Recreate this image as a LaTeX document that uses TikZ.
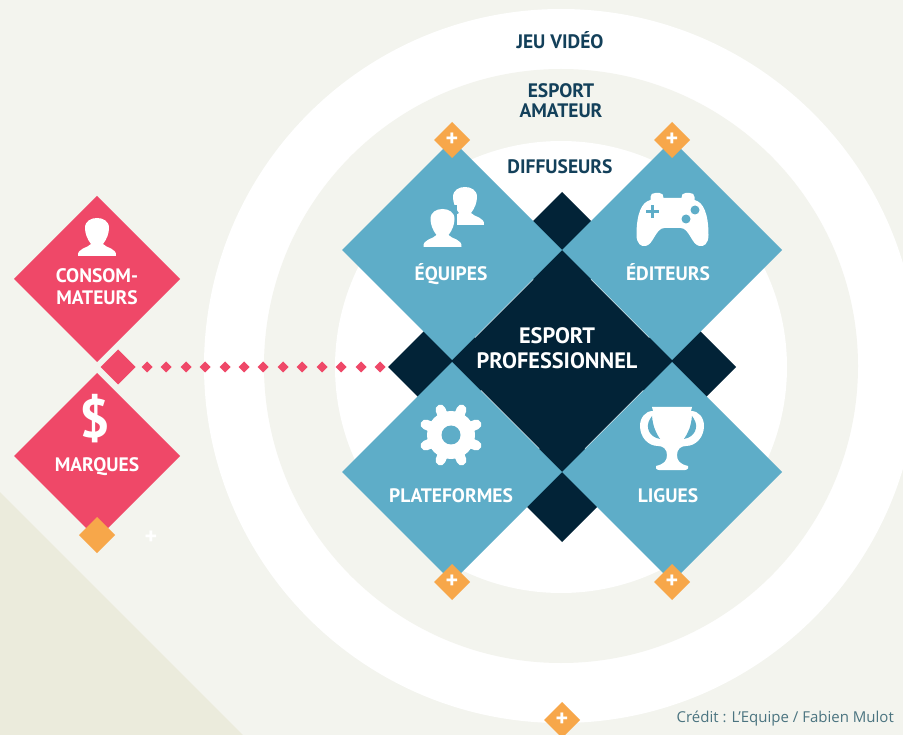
\documentclass[tikz,border=0pt]{standalone}
\usepackage{fontspec}
\setmainfont{PT Sans}
\newfontfamily\creditfont{Open Sans}
\usetikzlibrary{shapes.geometric}
\definecolor{bgcol}{HTML}{F3F4EE}
\definecolor{wedgecol}{HTML}{EBEBDC}
\definecolor{pinkcol}{HTML}{EF4868}
\definecolor{bluecol}{HTML}{5EADC8}
\definecolor{darkcol}{HTML}{022337}
\definecolor{orangecol}{HTML}{F7A74A}
\definecolor{titlecol}{HTML}{13405A}
\definecolor{creditcol}{HTML}{4B7480}
\newcommand\Person{(-19,38) .. controls (-20,30) and (-9,30) .. (-6,26) .. controls (-10,21) and (-12,15) .. (-12,10) .. controls (-12,3) and (-6,0) .. (0,0) .. controls (6,0) and (12,3) .. (12,10) .. controls (12,15) and (10,21) .. (6,26) .. controls (9,30) and (20,30) .. (19,38) -- cycle}
\newcommand\Plus{\raisebox{-2pt}{+}}
\tikzset{
  dia/.style={shape=diamond,aspect=1,inner sep=0pt,outer sep=0pt,minimum size=#1},
  pinkdia/.style={dia=#1,fill=pinkcol},
  bluedia/.style={dia=220pt,fill=bluecol},
  darkdia/.style={dia=#1,fill=darkcol},
  plusdia/.style={dia=36pt,fill=orangecol,text=white,font=\bfseries\fontsize{24}{24}\selectfont},
  dotdia/.style={dia=11pt,fill=pinkcol},
  ring/.style={shape=circle,inner sep=0pt,outer sep=0pt,minimum size=#1},
  lab/.style={text=white,font=\bfseries\fontsize{19.5}{19.5}\selectfont},
  title/.style={text=titlecol,font=\bfseries\fontsize{19.5}{19.5}\selectfont},
  big/.style={text=white,font=\bfseries\fontsize{22.3}{22.3}\selectfont},
  icon/.style={fill=white,draw=none}
}
\begin{document}
\begin{tikzpicture}[x=1pt,y=-1pt]%
\clip (0,0) rectangle (903,735); %%
\fill[bgcol] (0,0) rectangle (903,735); %%
\fill[wedgecol] (0,492)--(243,735)--(0,735)--cycle; %%
% rings
\node[ring=714pt,fill=white] (r1) at (561,366) {}; %%
\node[ring=594pt,fill=bgcol] (r2) at (561,366) {}; %%
\node[ring=452pt,fill=white] (r3) at (561,367) {}; %%
% dark diamonds
\node[darkdia=116pt] (k1) at (562,250) {}; %%
\node[darkdia=116pt] (k2) at (446,367) {}; %%
\node[darkdia=116pt] (k3) at (678,367) {}; %%
\node[darkdia=116pt] (k4) at (562,484) {}; %%
\node[darkdia=220pt] (pro) at (562,361) {}; %%
% blue diamonds
\node[bluedia] (equ) at (452,250) {}; %%
\node[bluedia] (edi) at (672,250) {}; %%
\node[bluedia] (pla) at (452,472) {}; %%
\node[bluedia] (lig) at (672,472) {}; %%
% left side
\node[pinkdia=166pt] (con) at (97,279) {}; %%
\node[pinkdia=166pt] (mar) at (97,456) {}; %%
\node[pinkdia=35pt] (d0) at (118,367) {}; %%
\node[dotdia] (d1) at (147,367) {}; %%
\node[dotdia] (d2) at (166,367) {}; %%
\node[dotdia] (d3) at (186,367) {}; %%
\node[dotdia] (d4) at (205,367) {}; %%
\node[dotdia] (d5) at (225,367) {}; %%
\node[dotdia] (d6) at (244,367) {}; %%
\node[dotdia] (d7) at (263,367) {}; %%
\node[dotdia] (d8) at (283,367) {}; %%
\node[dotdia] (d9) at (302,367) {}; %%
\node[dotdia] (d10) at (322,367) {}; %%
\node[dotdia] (d11) at (341,367) {}; %%
\node[dotdia] (d12) at (361,367) {}; %%
\node[dotdia] (d13) at (380,367) {}; %%
% orange diamonds
\node[plusdia] (p1) at (452,140) {\Plus}; %%
\node[plusdia] (p2) at (672,140) {\Plus}; %%
\node[plusdia] (p3) at (452,582) {\Plus}; %%
\node[plusdia] (p4) at (672,582) {\Plus}; %%
\node[plusdia] (p5) at (562,720) {\Plus}; %%
\node[dia=36pt,fill=orangecol] (p6) at (97,535) {}; %%
\node[text=white,font=\bfseries\fontsize{24}{24}\selectfont] (p7) at (151,538) {+}; %%
% titles
\node[title] (t1) at (560,40) {JEU VIDÉO}; %%
\node[title] (t2) at (561,91) {ESPORT}; %%
\node[title] (t3) at (561,111) {AMATEUR}; %%
\node[title] (t4) at (560,167) {DIFFUSEURS}; %%
\node[lab] (l1) at (451,274) {ÉQUIPES}; %%
\node[lab] (l2) at (668,272) {ÉDITEURS}; %%
\node[lab] (l3) at (451,496) {PLATEFORMES}; %%
\node[lab] (l4) at (668,496) {LIGUES}; %%
\node[big] (l5) at (557,336) {ESPORT}; %%
\node[big] (l6) at (557,361) {PROFESSIONNEL}; %%
\node[lab] (l7) at (97,276) {CONSOM-}; %%
\node[lab] (l8) at (97,298) {MATEURS}; %%
\node[lab] (l9) at (97,467) {MARQUES}; %%
\node[text=white,font=\bfseries\fontsize{54}{54}\selectfont] (dol) at (95,419) {\$}; %%
\node[text=creditcol,font=\creditfont\fontsize{15}{15}\selectfont,anchor=east,inner sep=0pt] (cre) at (894,719) {Crédit : L’Equipe / Fabien Mulot}; %%
% person icons
\begin{scope}[shift={(97,218)}]%
\fill[icon] \Person; %%
\end{scope}
\begin{scope}%
\clip (453,180)--(490,180)--(490,230)--(457,230)--(457,205)--(453,205)--cycle; %%
\begin{scope}[shift={(465,187)}]%
\fill[icon] \Person; %%
\end{scope}
\end{scope}
\begin{scope}[shift={(442.5,209)}]%
\fill[icon] \Person; %%
\end{scope}
% controller
\begin{scope}[shift={(672.5,220)}]%
\fill[icon] (-22,-20)--(-22,-23) .. controls (-22,-26) and (-20,-27) .. (-17,-27)--(-13,-27) .. controls (-10,-27) and (-9,-25) .. (-9,-22)--(9,-22) .. controls (9,-25) and (10,-27) .. (13,-27)--(17,-27) .. controls (20,-27) and (22,-26) .. (22,-23)--(22,-20) .. controls (31,-18) and (36,-6) .. (36,15) .. controls (36,24) and (31,27) .. (27,26) .. controls (19,25) and (17,8) .. (8,8)--(-8,8) .. controls (-17,8) and (-19,25) .. (-27,26) .. controls (-31,27) and (-36,24) .. (-36,15) .. controls (-36,-6) and (-31,-18) .. (-22,-20)--cycle; %%
\fill[bluecol] (-27,-9.5) rectangle (-14,-6.5); %%
\fill[bluecol] (-22,-14.5) rectangle (-19,-1.5); %%
\node[ring=9pt,fill=bluecol] (b1) at (22.5,-10) {}; %%
\node[ring=9pt,fill=bluecol] (b2) at (13.5,-1) {}; %%
\end{scope}
% gear
\begin{scope}[shift={(451,435)}]%
\draw[white,line width=10pt,line cap=round] (22.5:16)--(22.5:27.5) (67.5:16)--(67.5:27.5) (112.5:16)--(112.5:27.5) (157.5:16)--(157.5:27.5) (202.5:16)--(202.5:27.5) (247.5:16)--(247.5:27.5) (292.5:16)--(292.5:27.5) (337.5:16)--(337.5:27.5); %%
\node[ring=48pt,fill=white] (g1) at (0,0) {}; %%
\node[ring=19pt,fill=bluecol] (g2) at (0,0) {}; %%
\end{scope}
% trophy
\begin{scope}[shift={(672,407)}]%
\fill[icon] (-20,0)--(20,0)--(19,4) .. controls (27,4) and (32,11) .. (32,19) .. controls (32,30) and (24,39) .. (14,39) .. controls (9,39) and (5,42) .. (5,48) .. controls (5,54) and (8,57) .. (16,59) .. controls (17,60) and (16,63) .. (13,63)--(-13,63) .. controls (-16,63) and (-17,60) .. (-16,59) .. controls (-8,57) and (-5,54) .. (-5,48) .. controls (-5,42) and (-9,39) .. (-14,39) .. controls (-24,39) and (-32,30) .. (-32,19) .. controls (-32,11) and (-27,4) .. (-19,4)--cycle; %%
\fill[bluecol] (-22,12) .. controls (-27,20) and (-23,30) .. (-12,32) .. controls (-16,26) and (-19,20) .. (-20,9)--cycle; %%
\fill[bluecol] (22,12) .. controls (27,20) and (23,30) .. (12,32) .. controls (16,26) and (19,20) .. (20,9)--cycle; %%
\end{scope}
\end{tikzpicture}
\end{document}
